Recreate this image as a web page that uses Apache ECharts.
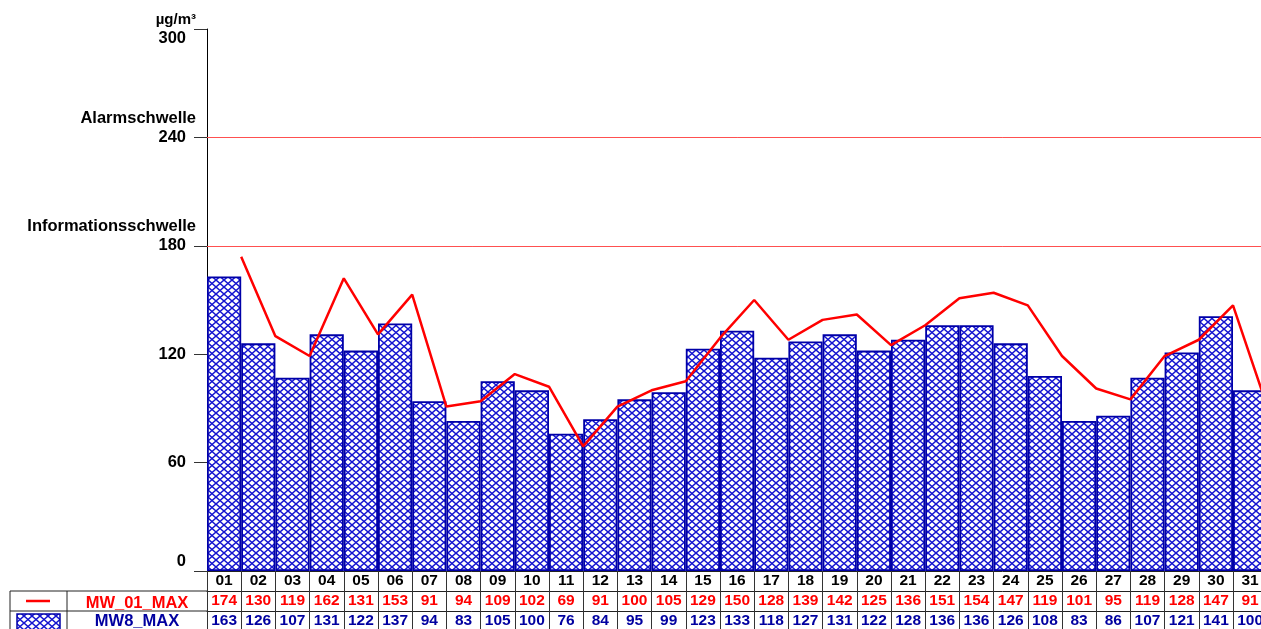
<!DOCTYPE html>
<html>
<head>
<meta charset="utf-8">
<script src="https://cdn.jsdelivr.net/npm/echarts@6/dist/echarts.min.js"></script>
<style>
html,body{margin:0;padding:0;background:#fff;overflow:hidden;}
#chart{width:1268px;height:629px;}
</style>
</head>
<body>
<div id="chart"></div>
<script>
const days = ['01','02','03','04','05','06','07','08','09','10','11','12','13','14','15','16','17','18','19','20','21','22','23','24','25','26','27','28','29','30','31'];
const mw01Max = [174,130,119,162,131,153,91,94,109,102,69,91,100,105,129,150,128,139,142,125,136,151,154,147,119,101,95,119,128,147,91];
const mw8Max = [163,126,107,131,122,137,94,83,105,100,76,84,95,99,123,133,118,127,131,122,128,136,136,126,108,83,86,107,121,141,100];
const seriesNames = ['MW_01_MAX','MW8_MAX'];
const yTicks = [0,60,120,180,240,300];
const thresholds = [{name:'Informationsschwelle', value:180},{name:'Alarmschwelle', value:240}];
const unitLabel = 'µg/m³';

const FONT = '"Liberation Sans", Arial, sans-serif';
const RED = '#ff0000';
const BLUE_TXT = '#0000a0';
const BLUE = '#1515d0';

function makeHatch(){
  const w = 8, h = 7;
  const c = document.createElement('canvas');
  c.width = w; c.height = h;
  const g = c.getContext('2d');
  g.fillStyle = '#fff'; g.fillRect(0,0,w,h);
  g.strokeStyle = BLUE; g.lineWidth = 1.4;
  g.beginPath();
  g.moveTo(-w/8,-h/8); g.lineTo(w*9/8,h*9/8);
  g.moveTo(w*9/8,-h/8); g.lineTo(-w/8,h*9/8);
  g.stroke();
  return c;
}
const hatch = makeHatch();
const hatchFill = {image: hatch, repeat: 'repeat'};

const lineCats = [''].concat(days);
const lineData = [null].concat(mw01Max);

const chart = echarts.init(document.getElementById('chart'), null, {renderer:'canvas'});

function yLabel(v){
  const t = thresholds.find(d => d.value === v);
  if (v === yTicks[yTicks.length-1]) return '{u|' + unitLabel + '}\n{v|' + v + '}';
  if (t) return '{n|' + t.name + '}\n{v|' + v + '}\n{e| }';
  if (v === 0) return '{v|0}\n{e| }';
  return '{v|' + v + '}';
}

const gridLeft = 207, gridTop = 29, gridBottom = 629-571;
const catW = 34.2;
const gridWidth = catW*days.length;

function tableAxis(data, offset, color){
  return {
    type:'category', data:data, position:'bottom', offset:offset,
    axisLine:{show:true, lineStyle:{color:'#222', width:1}},
    axisTick:{show:true, interval:0, length:20, lineStyle:{color:'#333', width:1}},
    axisLabel:{interval:0, margin:2, color:color, fontSize:15.5, fontWeight:'bold', fontFamily:FONT},
    splitLine:{show:false}
  };
}

chart.setOption({
  animation:false,
  textStyle:{fontFamily:FONT},
  grid:{left:gridLeft, top:gridTop, bottom:gridBottom, width:gridWidth, containLabel:false},
  xAxis:[
    tableAxis(days, 0, '#000'),
    tableAxis(mw01Max.map(String), 20, RED),
    tableAxis(mw8Max.map(String), 40, BLUE_TXT),
    {type:'category', data:lineCats, boundaryGap:false, show:false}
  ],
  yAxis:{
    type:'value', min:0, max:300, interval:60,
    axisLine:{show:true, lineStyle:{color:'#000', width:1}},
    axisTick:{show:true, length:13, lineStyle:{color:'#333', width:1}},
    splitLine:{show:false},
    axisLabel:{
      margin:11, formatter:yLabel, align:'right',
      rich:{
        u:{fontSize:15, fontWeight:'bold', color:'#000', lineHeight:19, fontFamily:FONT, align:'right'},
        n:{fontSize:16.5, fontWeight:'bold', color:'#000', lineHeight:19, fontFamily:FONT, align:'right'},
        v:{fontSize:16.5, fontWeight:'bold', color:'#000', lineHeight:19, fontFamily:FONT, align:'right', padding:[0,10,0,0]},
        e:{fontSize:15, lineHeight:19}
      }
    }
  },
  series:[
    {
      name:seriesNames[1], type:'bar', data:mw8Max, xAxisIndex:0,
      barCategoryGap:0, barGap:0,
      itemStyle:{color:hatchFill, borderColor:'#0000a8', borderWidth:1.8},
      markLine:{
        silent:true, symbol:'none',
        label:{show:false},
        lineStyle:{color:'#ff5050', width:1, type:'solid'},
        data:thresholds.map(t => ({yAxis:t.value}))
      },
      z:2
    },
    {
      name:seriesNames[0], type:'line', data:lineData, xAxisIndex:3,
      symbol:'none', connectNulls:false,
      lineStyle:{color:RED, width:2.5},
      z:5
    }
  ],
  graphic:[
    {type:'line', shape:{x1:10,y1:591,x2:207,y2:591}, style:{stroke:'#222', lineWidth:1}},
    {type:'line', shape:{x1:10,y1:611,x2:207,y2:611}, style:{stroke:'#222', lineWidth:1}},
    {type:'line', shape:{x1:10,y1:591,x2:10,y2:629}, style:{stroke:'#222', lineWidth:1}},
    {type:'line', shape:{x1:67,y1:591,x2:67,y2:629}, style:{stroke:'#222', lineWidth:1}},
    {type:'line', shape:{x1:26,y1:601,x2:50,y2:601}, style:{stroke:RED, lineWidth:2.5}},
    {type:'rect', shape:{x:17,y:614,width:43,height:16}, style:{fill:hatchFill, stroke:'#0000a8', lineWidth:1.5}},
    {type:'text', x:137, y:603, style:{text:seriesNames[0], fill:RED, font:'bold 16.5px ' + FONT, align:'center', verticalAlign:'middle'}},
    {type:'text', x:137, y:621, style:{text:seriesNames[1], fill:BLUE_TXT, font:'bold 16.5px ' + FONT, align:'center', verticalAlign:'middle'}}
  ]
});
</script>
</body>
</html>
